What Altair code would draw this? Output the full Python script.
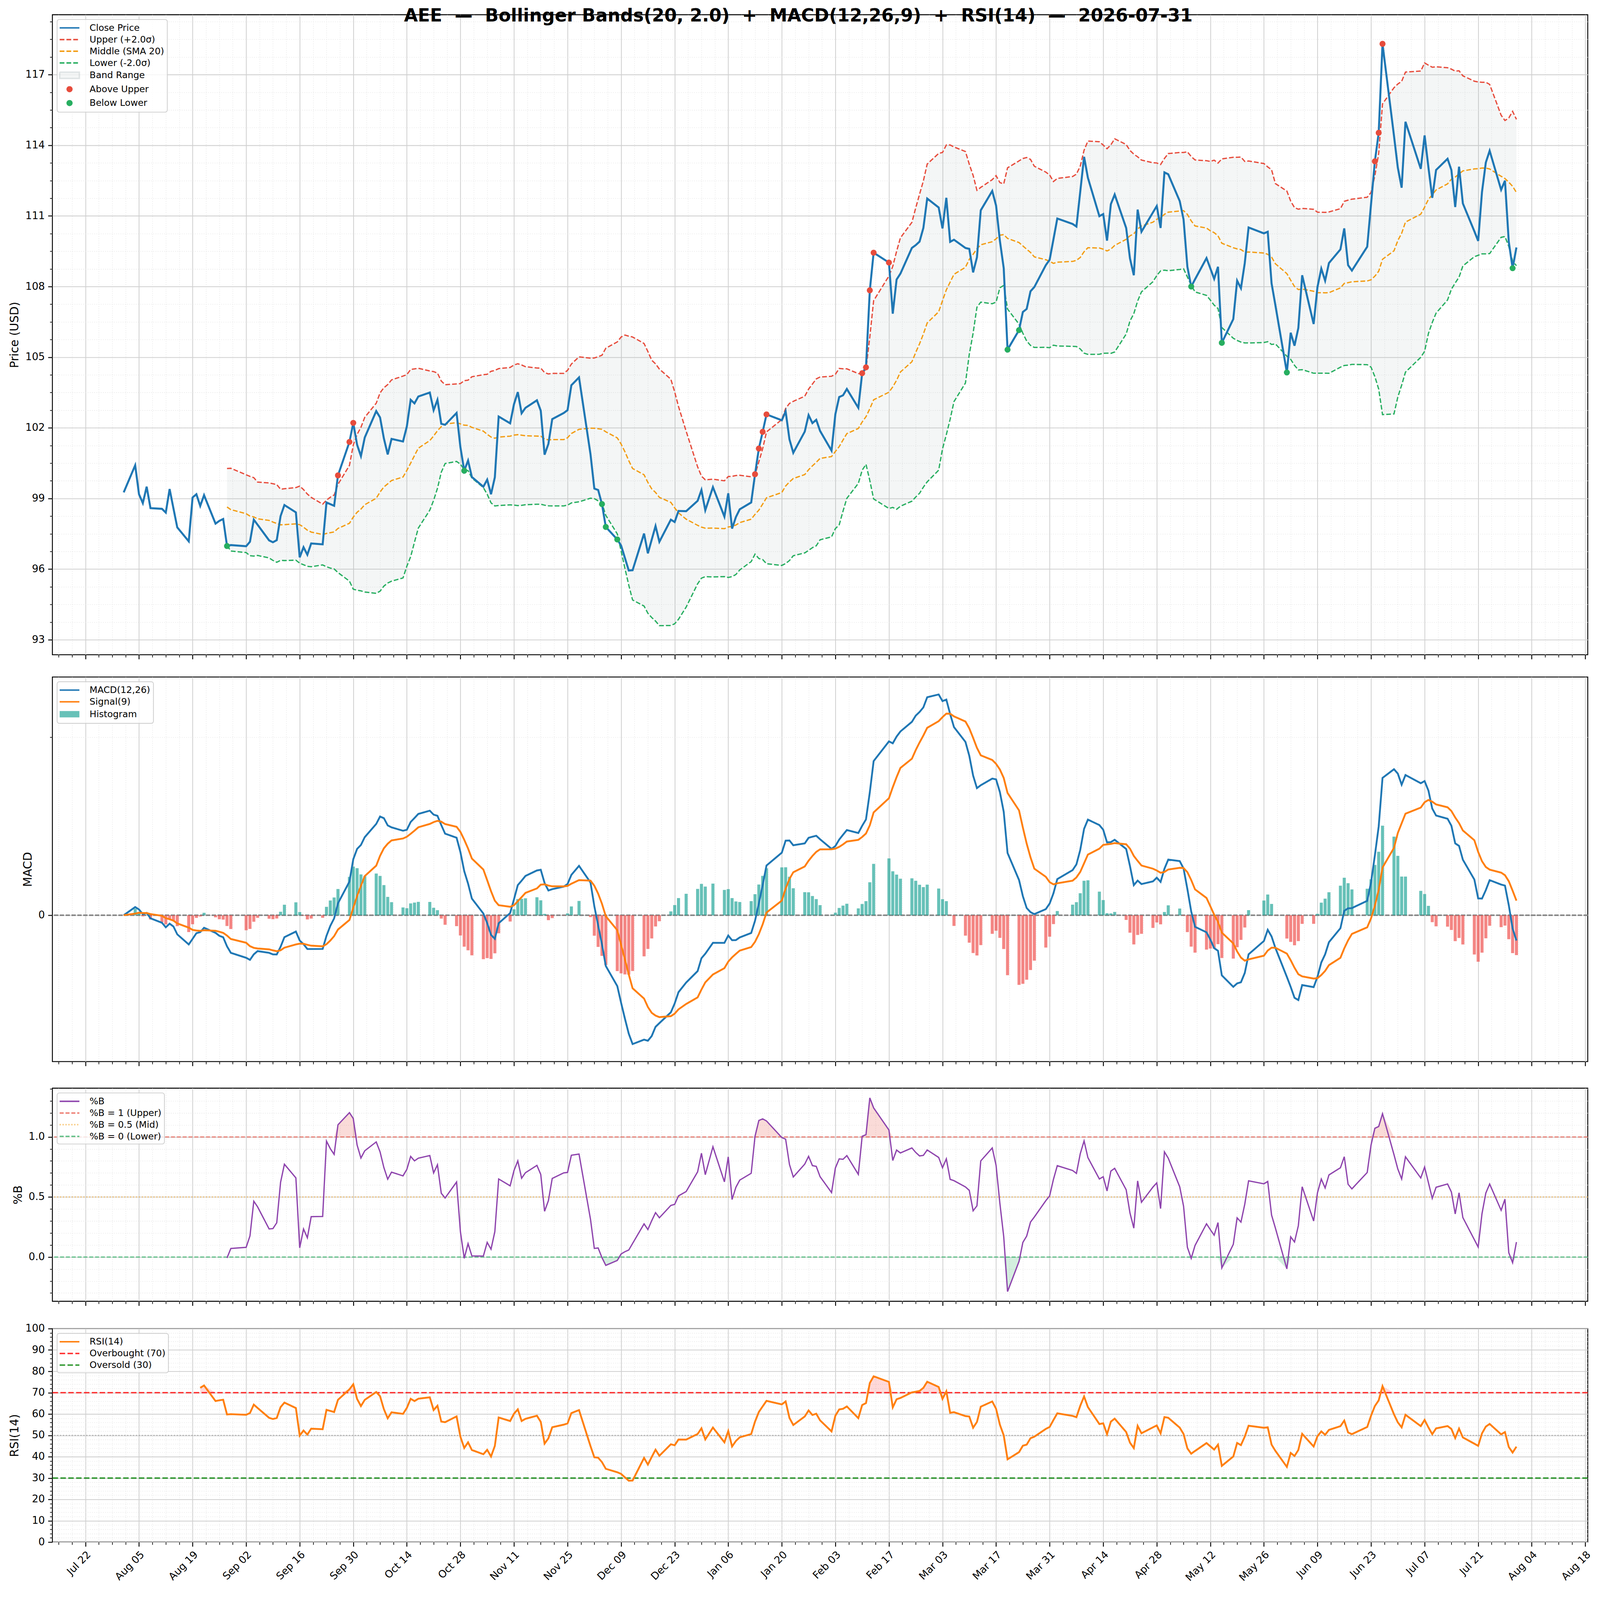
import altair as alt
import numpy as np
import pandas as pd

TITLE = "AEE\u00a0\u00a0—\u00a0\u00a0Bollinger Bands(20, 2.0)\u00a0\u00a0+\u00a0\u00a0MACD(12,26,9)\u00a0\u00a0+\u00a0\u00a0RSI(14)\u00a0\u00a0—\u00a0\u00a02026-07-31"

dates = [
    "2025-08-01","2025-08-04","2025-08-05","2025-08-06","2025-08-07","2025-08-08","2025-08-11","2025-08-12","2025-08-13","2025-08-14","2025-08-15","2025-08-18","2025-08-19","2025-08-20","2025-08-21","2025-08-22","2025-08-25","2025-08-26","2025-08-27","2025-08-28","2025-08-29",
    "2025-09-02","2025-09-03","2025-09-04","2025-09-05","2025-09-08","2025-09-09","2025-09-10","2025-09-11","2025-09-12","2025-09-15","2025-09-16","2025-09-17","2025-09-18","2025-09-19","2025-09-22","2025-09-23","2025-09-24","2025-09-25","2025-09-26","2025-09-29","2025-09-30",
    "2025-10-01","2025-10-02","2025-10-03","2025-10-06","2025-10-07","2025-10-08","2025-10-09","2025-10-10","2025-10-13","2025-10-14","2025-10-15","2025-10-16","2025-10-17","2025-10-20","2025-10-21","2025-10-22","2025-10-23","2025-10-24","2025-10-27","2025-10-28","2025-10-29","2025-10-30","2025-10-31",
    "2025-11-03","2025-11-04","2025-11-05","2025-11-06","2025-11-07","2025-11-10","2025-11-11","2025-11-12","2025-11-13","2025-11-14","2025-11-17","2025-11-18","2025-11-19","2025-11-20","2025-11-21","2025-11-24","2025-11-25","2025-11-26","2025-11-28",
    "2025-12-01","2025-12-02","2025-12-03","2025-12-04","2025-12-05","2025-12-08","2025-12-09","2025-12-10","2025-12-11","2025-12-12","2025-12-15","2025-12-16","2025-12-17","2025-12-18","2025-12-19","2025-12-22","2025-12-23","2025-12-24","2025-12-26","2025-12-29","2025-12-30","2025-12-31",
    "2026-01-02","2026-01-05","2026-01-06","2026-01-07","2026-01-08","2026-01-09","2026-01-12","2026-01-13","2026-01-14","2026-01-15","2026-01-16","2026-01-20","2026-01-21","2026-01-22","2026-01-23","2026-01-26","2026-01-27","2026-01-28","2026-01-29","2026-01-30",
    "2026-02-02","2026-02-03","2026-02-04","2026-02-05","2026-02-06","2026-02-09","2026-02-10","2026-02-11","2026-02-12","2026-02-13","2026-02-17","2026-02-18","2026-02-19","2026-02-20","2026-02-23","2026-02-24","2026-02-25","2026-02-26","2026-02-27",
    "2026-03-02","2026-03-03","2026-03-04","2026-03-05","2026-03-06","2026-03-09","2026-03-10","2026-03-11","2026-03-12","2026-03-13","2026-03-16","2026-03-17","2026-03-18","2026-03-19","2026-03-20","2026-03-23","2026-03-24","2026-03-25","2026-03-26","2026-03-27","2026-03-30","2026-03-31",
    "2026-04-01","2026-04-02","2026-04-06","2026-04-07","2026-04-08","2026-04-09","2026-04-10","2026-04-13","2026-04-14","2026-04-15","2026-04-16","2026-04-17","2026-04-20","2026-04-21","2026-04-22","2026-04-23","2026-04-24","2026-04-27","2026-04-28","2026-04-29","2026-04-30",
    "2026-05-01","2026-05-04","2026-05-05","2026-05-06","2026-05-07","2026-05-08","2026-05-11","2026-05-12","2026-05-13","2026-05-14","2026-05-15","2026-05-18","2026-05-19","2026-05-20","2026-05-21","2026-05-22","2026-05-26","2026-05-27","2026-05-28","2026-05-29",
    "2026-06-01","2026-06-02","2026-06-03","2026-06-04","2026-06-05","2026-06-08","2026-06-09","2026-06-10","2026-06-11","2026-06-12","2026-06-15","2026-06-16","2026-06-17","2026-06-18","2026-06-22","2026-06-23","2026-06-24","2026-06-25","2026-06-26","2026-06-29","2026-06-30",
    "2026-07-01","2026-07-02","2026-07-06","2026-07-07","2026-07-08","2026-07-09","2026-07-10","2026-07-13","2026-07-14","2026-07-15","2026-07-16","2026-07-17","2026-07-20","2026-07-21","2026-07-22","2026-07-23","2026-07-24","2026-07-27","2026-07-28","2026-07-29","2026-07-30","2026-07-31",
]

close = [
    99.26,100.41,99.18,98.80,99.50,98.59,98.56,98.40,99.40,98.58,97.77,97.18,99.04,99.18,98.68,99.14,97.93,98.05,98.13,96.98,97.02,
    96.97,97.16,98.10,97.88,97.22,97.14,97.23,98.25,98.72,98.41,96.50,96.93,96.61,97.09,97.05,98.83,98.76,98.69,99.98,101.40,102.21,
    101.28,100.80,101.59,102.71,102.44,101.55,100.87,101.53,101.42,102.06,103.19,103.04,103.33,103.50,102.75,103.19,102.17,102.13,102.63,101.18,100.18,100.61,99.91,
    99.50,99.80,99.18,99.90,102.48,102.19,103.00,103.52,102.62,102.85,103.17,102.73,100.86,101.32,102.37,102.63,102.75,103.81,104.14,
    100.88,99.42,99.36,98.76,97.79,97.26,97.00,96.47,95.94,95.95,97.51,96.67,97.25,97.83,97.16,98.10,98.00,98.47,98.46,98.90,99.36,98.50,
    99.48,98.23,99.22,97.72,98.21,98.54,98.83,100.03,101.12,101.83,102.57,102.32,102.70,101.51,100.94,101.84,102.54,102.20,102.34,101.87,
    101.03,102.58,103.31,103.38,103.65,102.85,104.32,104.57,107.84,109.44,109.02,106.85,108.30,108.55,109.64,109.76,109.91,110.49,111.74,
    111.36,110.47,111.77,109.90,109.99,109.64,109.60,108.60,109.24,111.24,112.06,111.44,109.94,108.78,105.32,106.15,106.92,107.05,107.80,107.98,108.91,109.14,
    110.01,110.89,110.66,110.55,112.03,113.51,112.62,110.99,111.08,109.95,111.50,111.91,110.49,109.19,108.48,111.27,110.33,111.15,111.42,110.49,112.85,
    112.77,111.63,110.85,108.84,108.00,108.31,109.21,108.77,108.33,108.84,105.61,106.62,108.25,107.93,109.00,110.51,110.26,110.33,108.14,107.21,
    104.35,106.04,105.49,106.24,108.48,106.41,107.98,108.76,108.25,109.00,109.58,110.47,108.91,108.68,109.69,111.50,113.32,114.53,118.31,114.40,113.05,
    112.20,115.00,113.00,114.42,113.06,111.77,112.95,113.43,112.95,111.38,113.09,111.53,110.35,109.94,112.02,113.27,113.77,112.11,112.50,109.90,108.78,109.66,
]

price_names = ["Close Price", "Upper (+2.0σ)", "Middle (SMA 20)", "Lower (-2.0σ)", "Band Range", "Above Upper", "Below Lower"]
macd_names = ["MACD(12,26)", "Signal(9)", "Histogram"]
pb_names = ["%B", "%B = 1 (Upper)", "%B = 0.5 (Mid)", "%B = 0 (Lower)"]
rsi_names = ["RSI(14)", "Overbought (70)", "Oversold (30)"]
pb_levels = [1.0, 0.5, 0.0]
rsi_levels = [70, 30]
rsi_mid = [50]

assert len(dates) == len(close)

# ---------------------------------------------------------------- indicators
DAY = 86_400_000
df = pd.DataFrame({"date": pd.to_datetime(dates), "close": close})
df["t"] = df["date"].values.astype("datetime64[ms]").astype("int64")
c = df["close"]
mid = c.rolling(20).mean()
sd = c.rolling(20).std()
df["mid"] = mid
df["upper"] = mid + 2.0 * sd
df["lower"] = mid - 2.0 * sd
df["macd"] = c.ewm(span=12, adjust=False).mean() - c.ewm(span=26, adjust=False).mean()
df["signal"] = df["macd"].ewm(span=9, adjust=False).mean()
df["hist"] = df["macd"] - df["signal"]
dlt = c.diff()
gain = dlt.clip(lower=0).ewm(alpha=1 / 14, adjust=False, min_periods=14).mean()
loss = (-dlt).clip(lower=0).ewm(alpha=1 / 14, adjust=False, min_periods=14).mean()
df["rsi"] = 100 - 100 / (1 + gain / loss)
df["pb"] = (c - df["lower"]) / (df["upper"] - df["lower"])
df["pb_hi"] = np.where(df["pb"].notna(), np.maximum(df["pb"], 1.0), np.nan)
df["pb_lo"] = np.where(df["pb"].notna(), np.minimum(df["pb"], 0.0), np.nan)
df["rsi_hi"] = np.where(df["rsi"].notna(), np.maximum(df["rsi"], 70.0), np.nan)
df["t0"] = df["t"] - 0.4 * DAY
df["t1"] = df["t"] + 0.4 * DAY
data = df.drop(columns=["date"])

above = data[data["close"] > data["upper"]]
below = data[data["close"] < data["lower"]]

# ---------------------------------------------------------------- scales
lo, hi = data["t0"].min(), data["t1"].max()
pad = 0.05 * (hi - lo)
xdom = [float(lo - pad), float(hi + pad)]
T0 = int(pd.Timestamp("2025-07-22").value // 10**6)
STEP = int(3.5 * DAY)
xticks = [T0 + k * STEP for k in range(-10, 200) if xdom[0] <= T0 + k * STEP <= xdom[1]]
MAJ_X = f"(time(datum.value) - {T0}) % {14 * DAY} === 0"


def padded(vals):
    v = np.concatenate([np.asarray(x, dtype=float) for x in vals])
    v = v[~np.isnan(v)]
    a, b = v.min(), v.max()
    p = 0.05 * (b - a)
    return [float(a - p), float(b + p)]


pdom = padded([data["close"], data["upper"], data["lower"]])
mdom = padded([data["macd"], data["signal"], data["hist"], [0.0]])
bdom = padded([data["pb"]])
rdom = [0, 100]

FONT = "DejaVu Sans"
W = 4208
MAJ_GRID = "#d0d0d0"
MIN_GRID = "#e6e6e6"


def cond(test, a, b):
    return {"condition": {"test": test, "value": a}, "value": b}


def xaxis(show):
    return alt.Axis(
        values=xticks, title=None, domain=False, grid=True, labels=show,
        labelExpr=f"{MAJ_X} ? utcFormat(datum.value, '%b %d') : ''",
        labelAngle=-45, labelAlign="right", labelBaseline="top", labelPadding=8,
        labelFontSize=28, labelOverlap=False, labelFlush=False, labelBound=False,
        tickSize=cond(MAJ_X, 12, 7), tickWidth=cond(MAJ_X, 2.5, 1.8),
        gridColor=cond(MAJ_X, MAJ_GRID, MIN_GRID), gridDash=cond(MAJ_X, [1, 0], [2.5, 3.5]),
        gridWidth=cond(MAJ_X, 2.2, 1.4),
    )


def yaxis(title, values, test, fmt):
    return alt.Axis(
        title=title, values=values, domain=False, grid=True,
        labelExpr=f"{test} ? format(datum.value, '{fmt}') : ''",
        labelFontSize=28, labelPadding=9, titleFontSize=32, titlePadding=12,
        labelOverlap=False, labelFlush=False, labelBound=False,
        tickSize=cond(test, 12, 7), tickWidth=cond(test, 2.5, 1.8),
        gridColor=cond(test, MAJ_GRID, MIN_GRID), gridDash=cond(test, [1, 0], [2.5, 3.5]),
        gridWidth=cond(test, 2.2, 1.4),
    )


xs = alt.Scale(type="utc", domain=xdom)
X_top = alt.X("t:T", scale=xs, axis=xaxis(False))
X_bot = alt.X("t:T", scale=xs, axis=xaxis(True))

p_vals = [round(91.5 + 0.75 * k, 2) for k in range(60) if pdom[0] <= 91.5 + 0.75 * k <= pdom[1]]
m_vals = [v for v in [-2, 0, 2] if mdom[0] <= v <= mdom[1]]
b_vals = [round(0.1 * k, 1) for k in range(-10, 20) if bdom[0] <= 0.1 * k <= bdom[1]]
r_vals = list(range(0, 101, 2))

PY = alt.Scale(domain=pdom, nice=False, zero=False)
MY = alt.Scale(domain=mdom, nice=False, zero=False)
BY = alt.Scale(domain=bdom, nice=False, zero=False)
RY = alt.Scale(domain=rdom, nice=False, zero=False)
p_ax = yaxis("Price (USD)", p_vals, "datum.value % 3 === 0", "d")
m_ax = yaxis("MACD", m_vals, "datum.value === 0", "d")
b_ax = yaxis("%B", b_vals, "abs(datum.value * 2 - round(datum.value * 2)) < 1e-6", ".1f")
r_ax = yaxis("RSI(14)", r_vals, "datum.value % 10 === 0", "d")

# ---------------------------------------------------------------- legend helper
U, R, HH = 2.08, 0.65, 0.67
LINE = f"M-{U},0L{U},0"
DOT = f"M{R},0A{R},{R},0,1,1,-{R},0A{R},{R},0,1,1,{R},0Z"
RECT = f"M-{U},-{HH}L{U},-{HH}L{U},{HH}L-{U},{HH}Z"


def legend_layer(names, fills, strokes, dashes, shapes):
    leg = alt.Legend(
        title=None, orient="top-left", offset=13, padding=8,
        fillColor="rgba(255,255,255,0.8)", strokeColor="#cccccc", cornerRadius=6,
        labelFont=FONT, labelFontSize=25, labelColor="black", labelLimit=600,
        symbolSize=676, symbolStrokeWidth=4, symbolOffset=11, labelOffset=40,
        rowPadding=4, symbolOpacity=1,
    )
    ldf = pd.DataFrame({"series": names})
    return alt.Chart(ldf).mark_point(filled=True, opacity=0, size=676, strokeWidth=4).encode(
        fill=alt.Fill("series:N", scale=alt.Scale(domain=names, range=fills), legend=leg),
        stroke=alt.Stroke("series:N", scale=alt.Scale(domain=names, range=strokes), legend=leg),
        strokeDash=alt.StrokeDash("series:N", scale=alt.Scale(domain=names, range=dashes), legend=leg),
        shape=alt.Shape("series:N", scale=alt.Scale(domain=names, range=shapes), legend=leg),
    )


BLUE, ORANGE, RED, AMBER, GREEN, PURPLE = "#1f77b4", "#ff7f0e", "#e74c3c", "#f39c12", "#27ae60", "#8e44ad"
BAND = "rgba(149,165,166,0.1)"
DASH = [13, 5.6]
T = "transparent"

base = alt.Chart(data)

# ---------------------------------------------------------------- price panel
price = alt.layer(
    base.mark_area(fill=BAND).encode(x=X_top, y=alt.Y("lower:Q", scale=PY, axis=p_ax), y2="upper:Q"),
    base.mark_line(color=RED, strokeWidth=3.5, strokeDash=DASH).encode(x=X_top, y=alt.Y("upper:Q", scale=PY, axis=p_ax)),
    base.mark_line(color=AMBER, strokeWidth=3.5, strokeDash=DASH).encode(x=X_top, y=alt.Y("mid:Q", scale=PY, axis=p_ax)),
    base.mark_line(color=GREEN, strokeWidth=3.5, strokeDash=DASH).encode(x=X_top, y=alt.Y("lower:Q", scale=PY, axis=p_ax)),
    base.mark_line(color=BLUE, strokeWidth=5.5).encode(x=X_top, y=alt.Y("close:Q", scale=PY, axis=p_ax)),
    alt.Chart(above).mark_circle(color=RED, size=272, opacity=1).encode(x=X_top, y=alt.Y("close:Q", scale=PY, axis=p_ax)),
    alt.Chart(below).mark_circle(color=GREEN, size=272, opacity=1).encode(x=X_top, y=alt.Y("close:Q", scale=PY, axis=p_ax)),
    legend_layer(
        price_names,
        [T, T, T, T, BAND, RED, GREEN],
        [BLUE, RED, AMBER, GREEN, "rgba(149,165,166,0.25)", T, T],
        [[1, 0], DASH, DASH, DASH, [1, 0], [1, 0], [1, 0]],
        [LINE, LINE, LINE, LINE, RECT, DOT, DOT],
    ),
).properties(
    width=W, height=1754,
    title=alt.TitleParams(TITLE, fontSize=49, fontWeight="bold", font=FONT, anchor="middle",
                          offset=-28, frame="bounds", color="black"),
)

# ---------------------------------------------------------------- MACD panel
HPOS, HNEG = "rgba(38,166,154,0.7)", "rgba(239,83,80,0.7)"
macd_c = alt.layer(
    base.mark_rule(color="#888888", strokeWidth=2.8, strokeDash=[11, 5]).encode(y=alt.Y(datum=0, scale=MY, axis=m_ax)),
    base.mark_bar().encode(
        x=alt.X("t0:T", scale=xs, axis=xaxis(False)), x2="t1:T",
        y=alt.Y("hist:Q", scale=MY, axis=m_ax), y2=alt.datum(0),
        color=alt.condition("datum.hist >= 0", alt.value(HPOS), alt.value(HNEG)),
    ),
    base.mark_line(color=BLUE, strokeWidth=5).encode(x=X_top, y=alt.Y("macd:Q", scale=MY, axis=m_ax)),
    base.mark_line(color=ORANGE, strokeWidth=5).encode(x=X_top, y=alt.Y("signal:Q", scale=MY, axis=m_ax)),
    legend_layer(macd_names, [T, T, HPOS], [BLUE, ORANGE, T], [[1, 0], [1, 0], [1, 0]], [LINE, LINE, RECT]),
).properties(width=W, height=1054)

# ---------------------------------------------------------------- %B panel
pb_lines = pd.DataFrame({"y": pb_levels, "series": pb_names[1:]})
PB1, PB5, PB0 = "rgba(231,76,60,0.7)", "rgba(243,156,18,0.6)", "rgba(39,174,96,0.7)"
pb_c = alt.layer(
    base.mark_area(fill="rgba(231,76,60,0.2)").encode(x=X_top, y=alt.Y("pb_hi:Q", scale=BY, axis=b_ax), y2=alt.datum(1.0)),
    base.mark_area(fill="rgba(39,174,96,0.2)").encode(x=X_top, y=alt.Y("pb_lo:Q", scale=BY, axis=b_ax), y2=alt.datum(0.0)),
    alt.Chart(pb_lines[pb_lines.y == 1.0]).mark_rule(color=PB1, strokeWidth=3, strokeDash=[11, 5]).encode(y=alt.Y("y:Q", scale=BY, axis=b_ax)),
    alt.Chart(pb_lines[pb_lines.y == 0.5]).mark_rule(color=PB5, strokeWidth=3, strokeDash=[3, 5]).encode(y=alt.Y("y:Q", scale=BY, axis=b_ax)),
    alt.Chart(pb_lines[pb_lines.y == 0.0]).mark_rule(color=PB0, strokeWidth=3, strokeDash=[11, 5]).encode(y=alt.Y("y:Q", scale=BY, axis=b_ax)),
    base.mark_line(color=PURPLE, strokeWidth=3.5).encode(x=X_top, y=alt.Y("pb:Q", scale=BY, axis=b_ax)),
    legend_layer(pb_names, [T, T, T, T], [PURPLE, PB1, PB5, PB0], [[1, 0], [11, 5], [3, 5], [11, 5]], [LINE, LINE, LINE, LINE]),
).properties(width=W, height=584)

# ---------------------------------------------------------------- RSI panel
rsi_lines = pd.DataFrame({"y": rsi_levels, "series": rsi_names[1:]})
OB, OS = "rgba(255,0,0,0.8)", "rgba(0,128,0,0.8)"
rsi_c = alt.layer(
    base.mark_area(fill="rgba(255,0,0,0.15)").encode(x=X_bot, y=alt.Y("rsi_hi:Q", scale=RY, axis=r_ax), y2=alt.datum(70)),
    alt.Chart(pd.DataFrame({"y": rsi_mid})).mark_rule(color="rgba(128,128,128,0.6)", strokeWidth=3, strokeDash=[3, 5]).encode(y=alt.Y("y:Q", scale=RY, axis=r_ax)),
    alt.Chart(rsi_lines[rsi_lines.y == 70]).mark_rule(color=OB, strokeWidth=4, strokeDash=[15, 6.5]).encode(y=alt.Y("y:Q", scale=RY, axis=r_ax)),
    alt.Chart(rsi_lines[rsi_lines.y == 30]).mark_rule(color=OS, strokeWidth=4, strokeDash=[15, 6.5]).encode(y=alt.Y("y:Q", scale=RY, axis=r_ax)),
    base.mark_line(color=ORANGE, strokeWidth=5).encode(x=X_bot, y=alt.Y("rsi:Q", scale=RY, axis=r_ax)),
    legend_layer(rsi_names, [T, T, T], [ORANGE, OB, OS], [[1, 0], [15, 6.5], [15, 6.5]], [LINE, LINE, LINE]),
).properties(width=W, height=585)

chart = (
    alt.vconcat(price, macd_c, pb_c, rsi_c, spacing=44)
    .resolve_scale(fill="independent", stroke="independent", strokeDash="independent", shape="independent",
                   x="independent", y="independent")
    .properties(padding={"left": 14, "top": -139, "right": 10, "bottom": 5}, background="white")
    .configure_view(stroke="black", strokeWidth=2.5)
    .configure_axis(labelFont=FONT, titleFont=FONT, labelColor="black", titleColor="black",
                    tickColor="black", titleFontWeight="normal")
    .configure_legend(strokeWidth=2)
)

chart.save("out.html", embed_options={"renderer": "svg", "actions": False})
